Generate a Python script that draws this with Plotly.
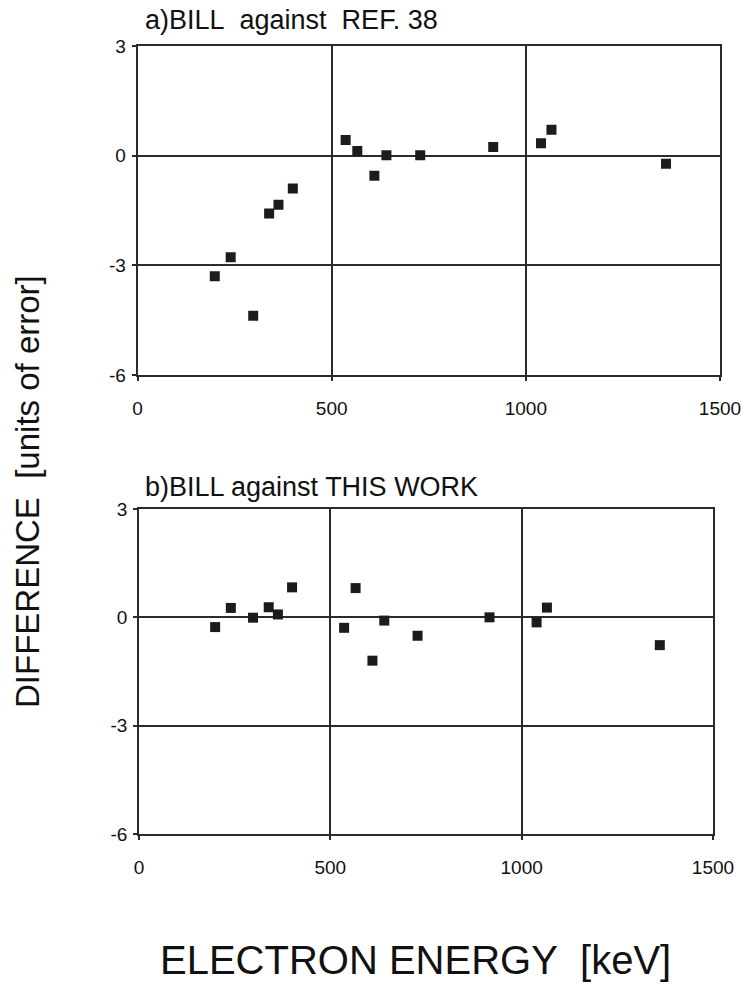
import plotly.graph_objects as go

# Electron energies (keV) of the compared conversion lines
energy_kev = [199, 240, 298, 339, 363, 400, 536, 566, 610, 641, 728, 916, 1039, 1066, 1361]

# Difference in units of the combined error
diff_ref38 = [-3.30, -2.78, -4.38, -1.58, -1.34, -0.90, 0.43, 0.13, -0.55, 0.01, 0.01, 0.24, 0.34, 0.71, -0.22]
diff_this_work = [-0.27, 0.26, -0.01, 0.28, 0.08, 0.83, -0.29, 0.81, -1.20, -0.09, -0.51, 0.00, -0.14, 0.27, -0.77]

panel_titles = ["a)BILL\u00a0\u00a0against\u00a0\u00a0REF.\u00a038", "b)BILL against THIS WORK"]
x_tick_vals = [0, 500, 1000, 1500]
x_tick_text = ["0", "500", "1000", "1500"]
y_tick_vals = [3, 0, -3, -6]
y_tick_text = ["3", "0", "-3", "-6"]

FONT = "Liberation Sans, Arial, Helvetica, sans-serif"
INK = "#2b2b2b"
MARK = "#1c1c1c"

fig = go.Figure()
fig.add_trace(go.Scatter(x=energy_kev, y=diff_ref38, mode="markers",
                         marker=dict(symbol="square", size=10, color=MARK),
                         xaxis="x", yaxis="y", showlegend=False))
fig.add_trace(go.Scatter(x=energy_kev, y=diff_this_work, mode="markers",
                         marker=dict(symbol="square", size=10, color=MARK),
                         xaxis="x2", yaxis="y2", showlegend=False))

W, H = 743, 987

def xdom(l, r):
    return [l / W, r / W]

def ydom(top, bottom):
    return [(H - bottom) / H, (H - top) / H]

axis_common = dict(
    automargin=False,
    showline=True, mirror=True, linecolor=INK, linewidth=1.8,
    showgrid=True, gridcolor=INK, gridwidth=1.6,
    zeroline=False, ticks="outside", ticklen=4, tickcolor=INK, tickwidth=1.5,
    tickfont=dict(family=FONT, size=19, color="#111"),
)

x_common = dict(axis_common, range=[0, 1500], tickvals=x_tick_vals, ticktext=x_tick_text,
                ticklabelstandoff=11)
y_common = dict(axis_common, range=[-6, 3], tickvals=y_tick_vals, ticktext=y_tick_text,
                ticklabelstandoff=2)

fig.update_layout(
    width=W, height=H,
    margin=dict(l=0, r=0, t=0, b=0),
    paper_bgcolor="white", plot_bgcolor="white",
    xaxis=dict(x_common, domain=xdom(137.5, 720), anchor="y"),
    yaxis=dict(y_common, domain=ydom(46, 375), anchor="x"),
    xaxis2=dict(x_common, domain=xdom(139, 713), anchor="y2"),
    yaxis2=dict(y_common, domain=ydom(509, 834), anchor="x2"),
)

annotations = [
    dict(text=panel_titles[0], x=143 / W, y=1 - 20 / H, xref="paper", yref="paper",
         xanchor="left", yanchor="middle", showarrow=False,
         font=dict(family=FONT, size=27, color="#111")),
    dict(text=panel_titles[1], x=143 / W, y=1 - 487 / H, xref="paper", yref="paper",
         xanchor="left", yanchor="middle", showarrow=False,
         font=dict(family=FONT, size=27, color="#111")),
    dict(text="ELECTRON ENERGY\u00a0\u00a0[keV]", x=416 / W, y=1 - 960 / H, xref="paper", yref="paper",
         xanchor="center", yanchor="middle", showarrow=False,
         font=dict(family=FONT, size=40, color="#111")),
    dict(text="DIFFERENCE\u00a0\u00a0[units of error]", x=28 / W, y=1 - 492 / H, xref="paper", yref="paper",
         xanchor="center", yanchor="middle", showarrow=False, textangle=-90,
         font=dict(family=FONT, size=33, color="#111")),
]
fig.update_layout(annotations=annotations)

fig.write_html("out.html")
